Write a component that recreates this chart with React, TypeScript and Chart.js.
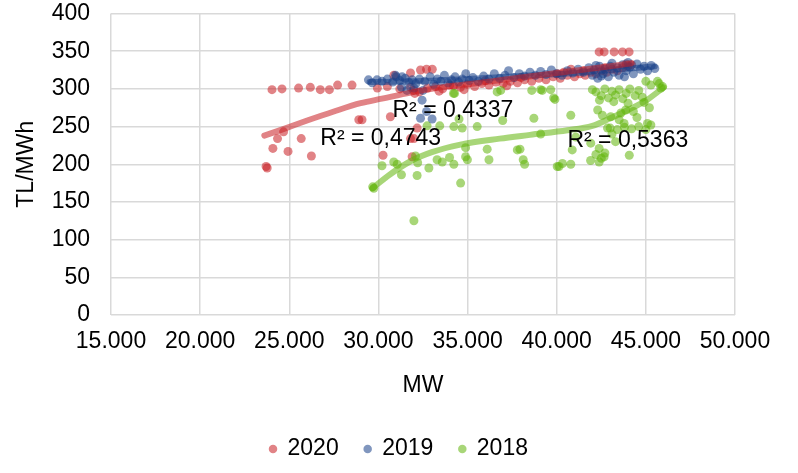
import { useEffect, useRef } from "react";
import { Chart, registerables } from "chart.js";

Chart.register(...registerables);

const seriesLabels = ["2020", "2019", "2018"];

const points2020: [number, number][] = [
  [23700, 197], [23760, 195], [24030, 299], [24590, 300], [25520, 301], [26180, 302], [26740, 299],
  [27250, 299], [27710, 305], [28520, 305], [28900, 259], [29080, 259], [30670, 263], [24680, 243],
  [24340, 234], [25670, 234], [24080, 221], [24930, 217], [26240, 211], [30260, 212], [31800, 234],
  [31890, 210], [31990, 234], [32170, 248], [30860, 318], [31800, 321], [32360, 325], [32700, 326],
  [33020, 326], [32040, 294], [29940, 301], [30500, 303], [31200, 300], [31800, 302], [31970, 298],
  [32300, 296], [32750, 301], [33200, 303], [33600, 300], [34000, 305], [34210, 304], [34600, 302],
  [35000, 306], [35400, 303], [35800, 307], [36200, 305], [36600, 309], [37000, 307], [37400, 310],
  [37800, 308], [38200, 312], [38600, 310], [39000, 314], [39400, 312], [39800, 316], [40200, 314],
  [40600, 318], [41000, 316], [41300, 320], [41600, 318], [41900, 322], [42200, 320], [42500, 324],
  [42800, 322], [43100, 326], [43400, 324], [43700, 328], [44000, 330], [44200, 332], [43900, 333],
  [42700, 328], [41500, 324], [40000, 320], [38000, 315], [36000, 311], [33400, 297], [34800, 299],
  [37200, 304], [40400, 322], [40800, 326], [42380, 349], [42660, 349], [43220, 349], [43690, 349],
  [44060, 349],
];

const points2019: [number, number][] = [
  [29440, 312], [29650, 308], [29920, 312], [30200, 310], [30500, 313], [30800, 309], [30960, 318],
  [31000, 316], [31200, 311], [31330, 316], [31500, 314], [31700, 309], [31900, 312], [32100, 307],
  [32300, 313], [32450, 285], [32360, 261], [33010, 260], [32700, 270], [32500, 298], [32600, 310],
  [32900, 316], [33100, 306], [33300, 313], [33500, 310], [33700, 318], [33900, 308], [34100, 312],
  [34300, 316], [34500, 309], [34700, 313], [34900, 320], [35100, 311], [35300, 315], [35600, 310],
  [35900, 317], [36200, 313], [36500, 320], [36800, 314], [37100, 318], [37300, 324], [37600, 315],
  [37900, 320], [38200, 317], [38500, 322], [38800, 318], [39100, 323], [39400, 319], [39700, 325],
  [40000, 320], [40300, 318], [40600, 324], [40900, 321], [41200, 326], [41500, 322], [41800, 328],
  [42000, 318], [42100, 325], [42300, 314], [42400, 330], [42600, 320], [42700, 326], [42900, 316],
  [43000, 330], [43200, 322], [43400, 328], [43500, 318], [43700, 332], [43900, 324], [44100, 329],
  [44300, 320], [44500, 333], [44700, 326], [44900, 330], [45100, 324], [45300, 331], [45500, 327],
  [42200, 331], [43100, 334], [44000, 335], [42500, 317], [43800, 316], [31300, 302], [31600, 298],
  [32000, 301],
];

const points2018: [number, number][] = [
  [29740, 168], [29680, 170], [30200, 198], [30860, 203], [31050, 200], [31290, 186], [32170, 185],
  [31990, 125], [32200, 202], [32080, 211], [32830, 195], [33290, 206], [33580, 203], [33990, 209],
  [34230, 200], [34610, 175], [34890, 210], [34990, 206], [34890, 222], [32730, 251], [33440, 251],
  [34230, 250], [34700, 248], [35540, 250], [36200, 206], [36100, 220], [37940, 220], [38120, 206],
  [38200, 200], [39100, 240], [36660, 296], [34270, 294], [34520, 260], [36970, 258], [37790, 219],
  [38720, 261], [38600, 298], [39100, 299], [39660, 299], [39900, 286], [40030, 197], [40130, 197],
  [40320, 201], [40790, 200], [39190, 298], [40790, 265], [42000, 299], [40870, 219], [41070, 236],
  [41910, 228], [42380, 221], [42380, 203], [42660, 210], [44070, 212], [43870, 272], [42560, 265],
  [43030, 263], [43500, 259], [43780, 254], [42850, 248], [45090, 254], [45280, 252], [45750, 307],
  [45940, 303], [45280, 305], [45650, 310], [45840, 301], [45000, 310], [42200, 296], [42500, 291],
  [42700, 300], [42900, 288], [43100, 297], [43300, 292], [43500, 299], [43700, 287], [43900, 294],
  [44100, 300], [44400, 291], [44600, 298], [44800, 289], [42400, 285], [43200, 283], [44000, 281],
  [43000, 248], [43400, 246], [43800, 249], [44200, 247], [44600, 250], [45000, 246], [41900, 205],
  [42200, 213], [42500, 208], [42700, 215], [43300, 230], [43100, 240], [44300, 270], [44500, 262],
  [43600, 268], [42300, 272], [44900, 282], [45200, 275], [36860, 298], [39830, 288], [34210, 294],
];

const trend2020: [number, number][] = [
  [23600, 238], [24700, 247], [26000, 258], [27500, 270], [29000, 281], [30200, 287], [31800, 295],
  [33500, 302], [35000, 306], [37000, 312], [39000, 318], [41000, 324], [43000, 330], [44200, 334],
];
const trend2019: [number, number][] = [
  [29500, 309], [32000, 310], [35000, 313], [38000, 317], [41000, 321], [43000, 325], [45500, 330],
];
const trend2018: [number, number][] = [
  [29660, 168], [30500, 184], [31800, 204], [33000, 216], [34600, 226], [36800, 234], [38500, 239],
  [40600, 245], [42000, 251], [43000, 261], [44000, 272], [45100, 286], [46000, 302],
];

const r2Labels = ["R² = 0,4743", "R² = 0,4337", "R² = 0,5363"];
const r2Anchors: [number, number][] = [[26740, 233.5], [30790, 270.6], [40600, 230.8]];

const xMin = 15000, xMax = 50000, xStep = 5000;
const yMin = 0, yMax = 400, yStep = 50;
const xTitle = "MW";
const yTitle = "TL/MWh";

const FONT = "'Liberation Sans', Arial, sans-serif";
const colors = ["rgba(200,30,35,0.55)", "rgba(24,64,137,0.55)", "rgba(97,180,10,0.55)"];

function fmtThousands(v: number): string {
  const s = Math.round(v).toString();
  return s.replace(/\B(?=(\d{3})+(?!\d))/g, ".");
}

const toXY = (arr: [number, number][]) => arr.map(([x, y]) => ({ x, y }));

export default function App() {
  const ref = useRef<HTMLCanvasElement | null>(null);
  useEffect(() => {
    document.body.style.margin = "0";
    const canvas = ref.current;
    if (!canvas) return;
    const r2Plugin = {
      id: "r2labels",
      afterDatasetsDraw(chart: any) {
        const { ctx, scales } = chart;
        ctx.save();
        ctx.font = `23px ${FONT}`;
        ctx.fillStyle = "#000";
        ctx.textAlign = "left";
        ctx.textBaseline = "middle";
        r2Labels.forEach((t, i) => {
          ctx.fillText(t, scales.x.getPixelForValue(r2Anchors[i][0]), scales.y.getPixelForValue(r2Anchors[i][1]));
        });
        ctx.restore();
      },
    };
    const scatter = (label: string, pts: [number, number][], color: string, order: number) => ({
      label,
      data: toXY(pts),
      backgroundColor: color,
      borderColor: "rgba(0,0,0,0)",
      borderWidth: 0,
      pointRadius: 4.5,
      pointBorderWidth: 0,
      showLine: false,
      order,
    });
    const trend = (pts: [number, number][], color: string) => ({
      label: "trend",
      data: toXY(pts),
      borderColor: color,
      backgroundColor: "rgba(0,0,0,0)",
      borderWidth: 6,
      pointRadius: 0,
      showLine: true,
      cubicInterpolationMode: "monotone" as const,
      borderCapStyle: "round" as const,
      order: 0,
    });
    const chart = new Chart(canvas, {
      type: "scatter",
      data: {
        datasets: [
          scatter(seriesLabels[0], points2020, colors[0], 3),
          scatter(seriesLabels[1], points2019, colors[1], 2),
          scatter(seriesLabels[2], points2018, colors[2], 1),
          trend(trend2020, colors[0]),
          trend(trend2019, colors[1]),
          trend(trend2018, colors[2]),
        ] as any,
      },
      options: {
        animation: false,
        responsive: false,
        devicePixelRatio: 1,
        layout: { padding: { top: 13.5, bottom: 2.5, left: 0, right: 0 } },
        plugins: {
          tooltip: { enabled: false },
          legend: {
            position: "bottom",
            labels: {
              usePointStyle: true,
              pointStyle: "circle",
              boxWidth: 6,
              boxHeight: 6,
              padding: 26,
              color: "#000",
              font: { size: 23, family: FONT },
              filter: (item: any) => item.datasetIndex < 3,
              sort: (a: any, b: any) => a.datasetIndex - b.datasetIndex,
            },
          },
        },
        scales: {
          x: {
            type: "linear",
            min: xMin,
            max: xMax,
            ticks: {
              stepSize: xStep,
              color: "#000",
              padding: 13,
              font: { size: 23, family: FONT },
              callback: (v: any) => fmtThousands(Number(v)),
              maxRotation: 0,
            },
            grid: { color: "#d9d9d9", lineWidth: 1.5, drawTicks: false },
            border: { display: false },
            title: {
              display: true,
              text: xTitle,
              color: "#000",
              font: { size: 23, family: FONT },
              padding: { top: 0, bottom: 12 },
            },
            afterFit: (s: any) => {
              s.height = 96.5;
              s.paddingRight = 63;
              s.paddingLeft = 0;
            },
          },
          y: {
            type: "linear",
            min: yMin,
            max: yMax,
            ticks: {
              stepSize: yStep,
              color: "#000",
              padding: 21,
              font: { size: 23, family: FONT },
            },
            grid: { color: "#d9d9d9", lineWidth: 1.5, drawTicks: false },
            border: { display: false },
            title: {
              display: true,
              text: yTitle,
              color: "#000",
              font: { size: 23, family: FONT },
              padding: { top: 13.2, bottom: 0 },
            },
            afterFit: (s: any) => {
              s.width = 111;
              s.paddingTop = 0;
              s.paddingBottom = 0;
            },
          },
        },
      },
      plugins: [r2Plugin],
    });
    return () => chart.destroy();
  }, []);
  return (
    <div style={{ width: 798, height: 473 }}>
      <canvas ref={ref} width={798} height={473} style={{ display: "block" }} />
    </div>
  );
}
